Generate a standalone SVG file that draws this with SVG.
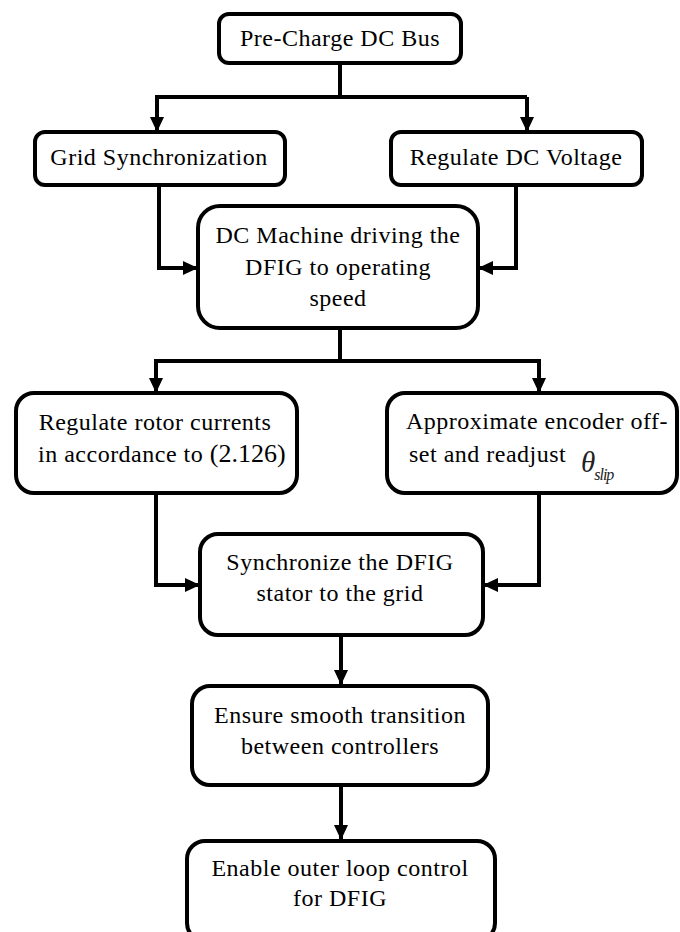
<svg xmlns="http://www.w3.org/2000/svg" width="680" height="932" viewBox="0 0 680 932">
  <defs>
    <marker id="arrow" markerUnits="userSpaceOnUse" markerWidth="16" markerHeight="16" viewBox="0 0 16 16" refX="14" refY="8" orient="auto">
      <path d="M0,1 L15,8 L0,15 Z" fill="#000"/>
    </marker>
    <style>
      .box { fill: #fff; stroke: #000; stroke-width: 4; }
      .lbl { font-family: "Liberation Serif", "Times New Roman", serif; font-size: 24px; letter-spacing: 0.5px; fill: #000; text-anchor: middle; }
      .lbl.start { text-anchor: start; }
      .wire { fill: none; stroke: #000; stroke-width: 4; }
      .arr { marker-end: url(#arrow); }
    </style>
  </defs>
  <rect width="680" height="932" fill="#fff"/>

  <!-- connectors -->
  <g id="connectors">
    <path class="wire" d="M340,63 V97 M155,97 H527"/>
    <path class="wire arr" d="M157,97 V131"/>
    <path class="wire arr" d="M527,97 V131"/>
    <path class="wire arr" d="M159,185 V268 H197"/>
    <path class="wire arr" d="M516,185 V268 H479"/>
    <path class="wire" d="M340,328 V361 M154,361 H541"/>
    <path class="wire arr" d="M156,361 V392"/>
    <path class="wire arr" d="M539,361 V392"/>
    <path class="wire arr" d="M156,493 V585 H199"/>
    <path class="wire arr" d="M539,493 V585 H484"/>
    <path class="wire arr" d="M341,635 V684"/>
    <path class="wire arr" d="M341,785 V839"/>
  </g>

  <g id="precharge">
    <rect class="box" x="219" y="14" width="242" height="49" rx="10"/>
    <text class="lbl" x="340" y="46">Pre-Charge DC Bus</text>
  </g>

  <g id="gridsync">
    <rect class="box" x="35" y="132" width="250" height="53" rx="10"/>
    <text class="lbl" x="159" y="165">Grid Synchronization</text>
  </g>

  <g id="regdc">
    <rect class="box" x="391" y="132" width="251" height="53" rx="10"/>
    <text class="lbl" x="516" y="165">Regulate DC Voltage</text>
  </g>

  <g id="dcmachine">
    <rect class="box" x="198" y="206" width="280" height="122" rx="22"/>
    <text class="lbl" x="338" y="243">DC Machine driving the</text>
    <text class="lbl" x="338" y="275">DFIG to operating</text>
    <text class="lbl" x="338" y="306">speed</text>
  </g>

  <g id="rotor">
    <rect class="box" x="16" y="393" width="281" height="100" rx="18"/>
    <text class="lbl" x="155" y="430">Regulate rotor currents</text>
    <text class="lbl start" x="38" y="462">in accordance to <tspan font-size="26px" style="letter-spacing:0">(2.126)</tspan></text>
  </g>

  <g id="encoder">
    <rect class="box" x="387" y="393" width="290" height="100" rx="18"/>
    <text class="lbl" x="537" y="429">Approximate encoder off-</text>
    <text class="lbl start" x="409" y="462">set and readjust</text>
    <text x="581" y="472" font-family="Liberation Serif, serif" font-style="italic" font-size="29" fill="#222">θ<tspan font-size="16" dy="8" dx="-1" letter-spacing="-1">slip</tspan></text>
  </g>

  <g id="statorsync">
    <rect class="box" x="200" y="534" width="283" height="101" rx="18"/>
    <text class="lbl" x="340" y="570">Synchronize the DFIG</text>
    <text class="lbl" x="340" y="601">stator to the grid</text>
  </g>

  <g id="transition">
    <rect class="box" x="192" y="686" width="296" height="99" rx="18"/>
    <text class="lbl" x="340" y="723">Ensure smooth transition</text>
    <text class="lbl" x="340" y="754">between controllers</text>
  </g>

  <g id="outerloop">
    <rect class="box" x="187" y="841" width="308" height="100" rx="18"/>
    <text class="lbl" x="340" y="876">Enable outer loop control</text>
    <text class="lbl" x="340" y="906">for DFIG</text>
  </g>
</svg>
